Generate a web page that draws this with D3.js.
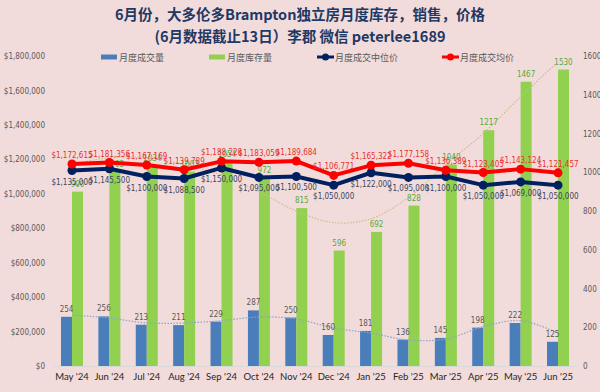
<!DOCTYPE html>
<html><head><meta charset="utf-8">
<script src="https://cdn.jsdelivr.net/npm/d3@7"></script>
<style>
html,body{margin:0;padding:0;background:#f2dcdb;}
svg{display:block;}
</style></head>
<body>
<script>
const categories = ["May '24","Jun '24","Jul '24","Aug '24","Sep '24","Oct '24","Nov '24","Dec '24","Jan '25","Feb '25","Mar '25","Apr '25","May '25","Jun '25"];
const sales = [254,256,213,211,229,287,250,160,181,136,145,198,222,125];
const inventory = [900,1003,1034,1003,1054,972,815,596,692,828,1040,1217,1467,1530];
const median = [1135000,1145500,1100000,1088500,1150000,1095000,1100500,1050000,1122000,1095000,1100000,1050000,1069000,1050000];
const average = [1172615,1181356,1167169,1139789,1188228,1183059,1189684,1106771,1165322,1177158,1136389,1123405,1143124,1121457];
const salesTrend = [263,248,222,222,234,253,243,196,170,134,139,203,234,170];
const inventoryTrend = [1040,1075,1075,1040,985,900,800,740,760,870,1040,1200,1390,1570];
const leftTicks = [0,200000,400000,600000,800000,1000000,1200000,1400000,1600000,1800000];
const rightTicks = [0,200,400,600,800,1000,1200,1400,1600];
const legendItems = ["月度成交量","月度库存量","月度成交中位价","月度成交均价"];
const titleLines = ["6月份，大多伦多Brampton独立房月度库存，销售，价格","(6月数据截止13日）李郡  微信 peterlee1689"];

const W=600,H=392;
const svg=d3.select("body").append("svg").attr("width",W).attr("height",H);
svg.append("rect").attr("x",0).attr("y",0).attr("width",W).attr("height",H).attr("fill","#f2dcdb");

const x=d3.scaleBand().domain(categories).range([53.3,576.7]).padding(0);
const yL=d3.scaleLinear().domain([0,1800000]).range([366,56]);
const yR=d3.scaleLinear().domain([0,1600]).range([366,56]);
const cx=c=>x(c)+x.bandwidth()/2;
const numFont="'Liberation Sans Narrow','DejaVu Sans Condensed','Liberation Sans',sans-serif";
const fmt=d3.format("$,");

// titles
svg.selectAll(".title").data(titleLines).join("text")
 .attr("x",300).attr("y",(d,i)=>20+i*22).attr("text-anchor","middle")
 .attr("font-family","'Noto Sans CJK SC',sans-serif").attr("font-weight","bold")
 .attr("font-size",14.5).attr("fill","#1f3864").text(d=>d);

// axes
const axL=d3.axisLeft(yL).tickValues(leftTicks).tickSize(0).tickPadding(0).tickFormat(d=>fmt(d));
const gL=svg.append("g").attr("transform","translate(45,0)").call(axL);
gL.select(".domain").remove();
gL.selectAll("text").attr("font-family",numFont).attr("font-size",8).attr("fill","#595959");
const axR=d3.axisRight(yR).tickValues(rightTicks).tickSize(0).tickPadding(0).tickFormat(d3.format("d"));
const gR=svg.append("g").attr("transform","translate(583,0)").call(axR);
gR.select(".domain").remove();
gR.selectAll("text").attr("font-family",numFont).attr("font-size",8).attr("fill","#595959");
const axB=d3.axisBottom(x).tickSize(0).tickPadding(0);
const gB=svg.append("g").attr("transform","translate(0,366)").call(axB);
gB.select(".domain").attr("stroke","#d9d9d9");
gB.selectAll("text").attr("dy","1.2em").attr("y",3).attr("font-family","Lato,'Open Sans',sans-serif").attr("font-size",9.5).attr("fill","#262626");

const bw=11;
// bars
svg.selectAll(".bs").data(categories).join("rect")
 .attr("x",c=>cx(c)-bw).attr("width",bw).attr("y",(c,i)=>yR(sales[i])).attr("height",(c,i)=>yR(0)-yR(sales[i])).attr("fill","#4a7ebb");
svg.selectAll(".bi").data(categories).join("rect")
 .attr("x",c=>cx(c)).attr("width",bw).attr("y",(c,i)=>yR(inventory[i])).attr("height",(c,i)=>yR(0)-yR(inventory[i])).attr("fill","#92d050");

// trendlines
const trLine=(arr)=>d3.line().curve(d3.curveCatmullRom).x((c)=>cx(c)).y((c,i)=>yR(arr[i]))(categories);
svg.append("path").attr("d",trLine(salesTrend)).attr("fill","none").attr("stroke","#8da4c4").attr("stroke-width",1.2).attr("stroke-dasharray","1.5,1.5");
svg.append("path").attr("d",trLine(inventoryTrend)).attr("fill","none").attr("stroke","#d2b98e").attr("stroke-width",1.2).attr("stroke-dasharray","1.5,1.5");

// bar labels
svg.selectAll(".ls").data(categories).join("text")
 .attr("x",c=>cx(c)-bw/2).attr("y",(c,i)=>yR(sales[i])-5).attr("text-anchor","middle")
 .attr("font-family",numFont).attr("font-size",8).attr("fill","#595959").text((c,i)=>sales[i]);
svg.selectAll(".li").data(categories).join("text")
 .attr("x",c=>cx(c)+bw/2).attr("y",(c,i)=>yR(inventory[i])-5).attr("text-anchor","middle")
 .attr("font-family",numFont).attr("font-size",8).attr("fill","#5aa83c").text((c,i)=>inventory[i]);

// lines
const pl=(arr)=>d3.line().x(c=>cx(c)).y((c,i)=>yL(arr[i]))(categories);
svg.append("path").attr("d",pl(median)).attr("fill","none").attr("stroke","#002060").attr("stroke-width",4).attr("stroke-linejoin","round");
svg.selectAll(".dm").data(categories).join("circle").attr("cx",cx).attr("cy",(c,i)=>yL(median[i])).attr("r",4.5).attr("fill","#002060");
svg.append("path").attr("d",pl(average)).attr("fill","none").attr("stroke","#ff0000").attr("stroke-width",4).attr("stroke-linejoin","round");
svg.selectAll(".da").data(categories).join("circle").attr("cx",cx).attr("cy",(c,i)=>yL(average[i])).attr("r",4.5).attr("fill","#ff0000");

svg.selectAll(".lm").data(categories).join("text")
 .attr("x",cx).attr("y",(c,i)=>yL(median[i])+14).attr("text-anchor","middle")
 .attr("font-family",numFont).attr("font-size",8).attr("fill","#3a4660").text((c,i)=>fmt(median[i]));
svg.selectAll(".la").data(categories).join("text")
 .attr("x",cx).attr("y",(c,i)=>yL(average[i])-6).attr("text-anchor","middle")
 .attr("font-family",numFont).attr("font-size",8).attr("fill","#e83030").text((c,i)=>fmt(average[i]));

// legend
const lx=[101,209,317,442];
const lg=svg.append("g");
legendItems.forEach((t,i)=>{
  const g=lg.append("g").attr("transform",`translate(${lx[i]},57)`);
  if(i<2){
    g.append("rect").attr("x",0).attr("y",-2.5).attr("width",16).attr("height",5).attr("fill",i==0?"#4a7ebb":"#92d050");
  } else {
    const col=i==2?"#002060":"#ff0000";
    g.append("line").attr("x1",0).attr("x2",17).attr("y1",0).attr("y2",0).attr("stroke",col).attr("stroke-width",3);
    g.append("circle").attr("cx",8.5).attr("cy",0).attr("r",3.5).attr("fill",col);
  }
  g.append("text").attr("x",18).attr("y",3.5).attr("font-family","'Noto Sans CJK SC',sans-serif").attr("font-size",9).attr("fill","#595959").text(t);
});
</script>
</body></html>
